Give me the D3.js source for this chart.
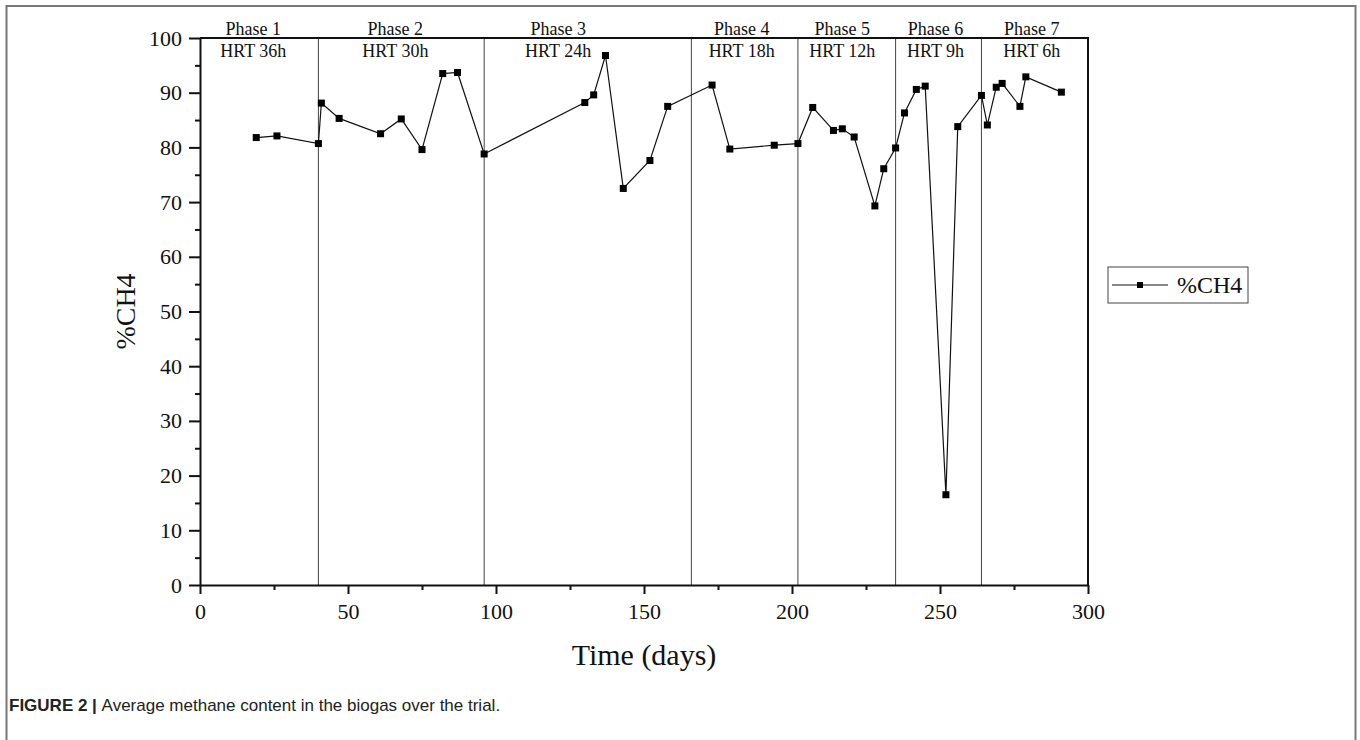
<!DOCTYPE html>
<html>
<head>
<meta charset="utf-8">
<script src="https://cdn.jsdelivr.net/npm/d3@7/dist/d3.min.js"></script>
<style>
  body { margin: 0; background: #fff; }
  text { font-family: "Liberation Serif", "Times New Roman", serif; fill: #111; }
  .caption { font-family: "Liberation Sans", Arial, sans-serif; fill: #222; }
</style>
</head>
<body>
<div id="chart"></div>
<script>
// methane content over time
var days = [19, 26, 40, 41, 47, 61, 68, 75, 82, 87, 96, 130, 133, 137, 143, 152, 158, 173, 179, 194,
            202, 207, 214, 217, 221, 228, 231, 235, 238, 242, 245, 252, 256, 264, 266, 269, 271, 277, 279, 291];
var ch4 = [81.8, 82.1, 80.7, 88.1, 85.3, 82.5, 85.2, 79.6, 93.5, 93.7, 78.8, 88.2, 89.6, 96.8, 72.5, 77.6, 87.5, 91.4, 79.7, 80.4,
           80.7, 87.3, 83.1, 83.4, 81.9, 69.3, 76.1, 79.9, 86.3, 90.6, 91.2, 16.5, 83.8, 89.5, 84.1, 91.0, 91.7, 87.5, 92.9, 90.1];

var phaseBreaks = [40, 96, 166, 202, 235, 264];
var phaseNames = ["Phase 1", "Phase 2", "Phase 3", "Phase 4", "Phase 5", "Phase 6", "Phase 7"];
var hrtNames = ["HRT 36h", "HRT 30h", "HRT 24h", "HRT 18h", "HRT 12h", "HRT 9h", "HRT 6h"];
var labelDays = [18, 66, 121, 183, 217, 248.5, 281];

var xTicks = [0, 50, 100, 150, 200, 250, 300];
var xMinor = [25, 75, 125, 175, 225, 275];
var yTicks = [0, 10, 20, 30, 40, 50, 60, 70, 80, 90, 100];
var yMinor = [5, 15, 25, 35, 45, 55, 65, 75, 85, 95];

var width = 1360, height = 740;

var svg = d3.select("#chart").append("svg")
  .attr("width", width)
  .attr("height", height);

// figure frame
svg.append("rect")
  .attr("x", 6.5).attr("y", 6).attr("width", 1349).attr("height", 760)
  .attr("fill", "none").attr("stroke", "#777").attr("stroke-width", 2);

var x = d3.scaleLinear().domain([0, 300]).range([200, 1088]);
var y = d3.scaleLinear().domain([0, 100]).range([585, 38]);

// phase separators
svg.selectAll(".phase")
  .data(phaseBreaks)
  .enter().append("line")
  .attr("x1", d => x(d)).attr("x2", d => x(d))
  .attr("y1", y(0)).attr("y2", y(100))
  .attr("stroke", "#444").attr("stroke-width", 1);

// top / right border of the plot
svg.append("path")
  .attr("d", "M" + x(0) + "," + y(100) + "H" + x(300) + "V" + y(0))
  .attr("fill", "none").attr("stroke", "#111").attr("stroke-width", 2);

// axes
var gx = svg.append("g").attr("transform", "translate(0," + y(0) + ")")
  .call(d3.axisBottom(x).tickValues(xTicks).tickSize(9).tickSizeOuter(0).tickPadding(8));
svg.append("g").attr("transform", "translate(0," + y(0) + ")")
  .call(d3.axisBottom(x).tickValues(xMinor).tickSize(5).tickSizeOuter(0).tickFormat(""))
  .select(".domain").remove();

var gy = svg.append("g").attr("transform", "translate(" + x(0) + ",0)")
  .call(d3.axisLeft(y).tickValues(yTicks).tickSize(11).tickSizeOuter(0).tickPadding(7));
svg.append("g").attr("transform", "translate(" + x(0) + ",0)")
  .call(d3.axisLeft(y).tickValues(yMinor).tickSize(5).tickSizeOuter(0).tickFormat(""))
  .select(".domain").remove();

svg.selectAll(".domain").attr("stroke", "#111").attr("stroke-width", 2);
svg.selectAll(".tick line").attr("stroke", "#111").attr("stroke-width", 2);
svg.selectAll(".tick text")
  .style("font-family", "'Liberation Serif', 'Times New Roman', serif")
  .style("font-size", "22px").attr("fill", "#111");
gx.selectAll(".tick text").attr("dy", "0.75em");

// axis titles
svg.append("text")
  .attr("x", (x(0) + x(300)) / 2).attr("y", 665)
  .attr("text-anchor", "middle")
  .style("font-size", "30px")
  .text("Time (days)");

svg.append("text")
  .attr("transform", "translate(135," + (y(0) + y(100)) / 2 + ") rotate(-90)")
  .attr("text-anchor", "middle")
  .style("font-size", "28px")
  .text("%CH4");

// phase labels
svg.selectAll(".pname")
  .data(phaseNames)
  .enter().append("text")
  .attr("x", (d, i) => x(labelDays[i]))
  .attr("y", 35)
  .attr("text-anchor", "middle")
  .style("font-size", "18px")
  .text(d => d);

svg.selectAll(".hrt")
  .data(hrtNames)
  .enter().append("text")
  .attr("x", (d, i) => x(labelDays[i]))
  .attr("y", 57)
  .attr("text-anchor", "middle")
  .style("font-size", "18px")
  .text(d => d);

// series
var points = days.map((d, i) => ({ day: d, v: ch4[i] }));

var line = d3.line().x(d => x(d.day)).y(d => y(d.v));

svg.append("path")
  .datum(points)
  .attr("d", line)
  .attr("fill", "none")
  .attr("stroke", "#111")
  .attr("stroke-width", 1.2);

var ms = 7;
svg.selectAll(".pt")
  .data(points)
  .enter().append("rect")
  .attr("x", d => x(d.day) - ms / 2)
  .attr("y", d => y(d.v) - ms / 2)
  .attr("width", ms).attr("height", ms)
  .attr("fill", "#000");

// legend
var lg = svg.append("g").attr("transform", "translate(1108,267)");
lg.append("rect")
  .attr("width", 140).attr("height", 36)
  .attr("fill", "#fff").attr("stroke", "#444").attr("stroke-width", 1);
lg.append("line")
  .attr("x1", 4).attr("x2", 60).attr("y1", 18).attr("y2", 18)
  .attr("stroke", "#111").attr("stroke-width", 1.2);
lg.append("rect")
  .attr("x", 32 - 3).attr("y", 18 - 3).attr("width", 6).attr("height", 6)
  .attr("fill", "#000");
lg.append("text")
  .attr("x", 69).attr("y", 26)
  .style("font-size", "24px")
  .text("%CH4");

// caption
var cap = svg.append("text")
  .attr("class", "caption")
  .attr("x", 9).attr("y", 711)
  .style("font-size", "17px");
cap.append("tspan")
  .style("font-family", "'Liberation Sans Narrow', 'Liberation Sans', Arial, sans-serif")
  .style("font-weight", "bold").style("font-size", "17px")
  .text("FIGURE 2 | ");
cap.append("tspan").text("Average methane content in the biogas over the trial.");
</script>
</body>
</html>
